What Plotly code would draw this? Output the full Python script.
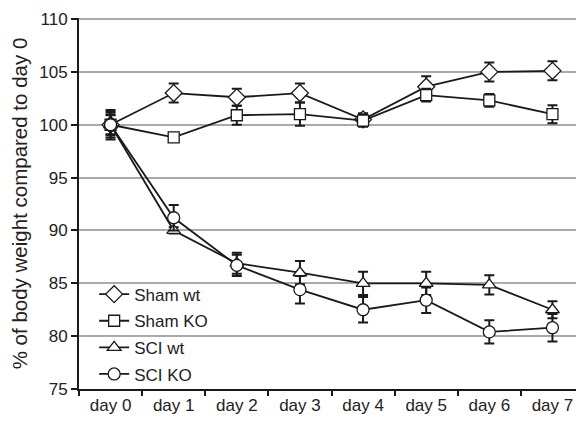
import plotly.graph_objects as go

days = ["day 0", "day 1", "day 2", "day 3", "day 4", "day 5", "day 6", "day 7"]

sham_wt = [100.0, 103.0, 102.6, 103.0, 100.5, 103.6, 105.0, 105.1]
sham_wt_err = [1.2, 0.9, 0.8, 0.9, 0.6, 1.0, 0.9, 0.9]

sham_ko = [100.0, 98.8, 100.9, 101.0, 100.4, 102.8, 102.3, 101.0]
sham_ko_err = [1.0, 0.4, 0.9, 1.1, 0.6, 0.6, 0.6, 0.85]

sci_wt = [100.0, 90.0, 86.9, 86.0, 85.0, 85.0, 84.85, 82.5]
sci_wt_err = [0.9, 0.3, 1.0, 1.1, 1.1, 1.1, 0.9, 0.8]

sci_ko = [100.0, 91.2, 86.7, 84.4, 82.5, 83.4, 80.4, 80.8]
sci_ko_err = [1.4, 1.2, 1.0, 1.3, 1.2, 1.2, 1.1, 1.3]

y_ticks = [75, 80, 85, 90, 95, 100, 105, 110]

series = [
    ("Sham wt", sham_wt, sham_wt_err, "diamond", 13),
    ("Sham KO", sham_ko, sham_ko_err, "square", 11),
    ("SCI wt", sci_wt, sci_wt_err, "triangle-up", 12),
    ("SCI KO", sci_ko, sci_ko_err, "circle", 12),
]

font = "Liberation Sans, Arial, sans-serif"
fig = go.Figure()
for i, (name, vals, errs, sym, size) in enumerate(series):
    fig.add_trace(go.Scatter(
        x=days, y=vals, name=name, mode="lines+markers",
        legendgroup=f"g{i}",
        line=dict(color="#1a1a1a", width=1.8),
        marker=dict(symbol=sym, size=size, color="white",
                    line=dict(color="#1a1a1a", width=1.3)),
        error_y=dict(type="data", array=errs, visible=True,
                     color="#1a1a1a", thickness=2, width=5),
    ))

fig.update_layout(
    width=576, height=415,
    margin=dict(l=71, r=0, t=10, b=34, autoexpand=False),
    plot_bgcolor="white", paper_bgcolor="white",
    font=dict(family=font, size=17, color="#222"),
    showlegend=True,
    legend=dict(x=0.03, y=0.303, xanchor="left", yanchor="top",
                bgcolor="rgba(0,0,0,0)", traceorder="grouped",
                tracegroupgap=1.5,
                font=dict(size=17, color="#222")),
    xaxis=dict(
        type="category", range=[-0.5, 7.5], automargin=False,
        showline=True, linecolor="#1a1a1a", linewidth=2,
        ticks="outside", tickson="boundaries", ticklen=5, tickwidth=2,
        tickcolor="#1a1a1a", showgrid=False,
        tickfont=dict(size=17, color="#222"),
    ),
    yaxis=dict(
        range=[75, 110.1], tickmode="array", tickvals=y_ticks,
        automargin=False, ticklabeloverflow="allow",
        showline=True, linecolor="#1a1a1a", linewidth=2,
        ticks="outside", ticklen=6, tickwidth=2, tickcolor="#1a1a1a",
        showgrid=True, gridcolor="#aaaaaa", gridwidth=1.5,
        zeroline=False,
        tickfont=dict(size=17, color="#222"),
        title=dict(text="% of body weight compared to day 0",
                   font=dict(size=20.5, color="#222"), standoff=8),
    ),
)

fig.write_html("out.html")
